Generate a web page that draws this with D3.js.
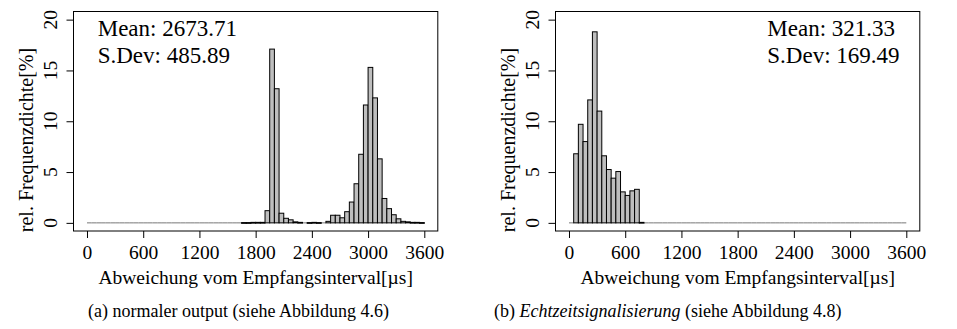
<!DOCTYPE html>
<html lang="de">
<head>
    <meta charset="UTF-8">
    <title>Histogramme Empfangsinterval</title>
    <script src="https://d3js.org/d3.v7.min.js"></script>
    <style>
        body { margin: 0; background: #fff; }
        text { font-family: "Liberation Serif", "Times New Roman", serif; fill: #000; }
    </style>
</head>
<body>
<svg id="chart" width="957" height="329"></svg>
<script>
    // bin width in µs, bins start at 0 and cover 0..3600
    var binWidth = 50;
    var xTicks = [0, 600, 1200, 1800, 2400, 3000, 3600];
    var yTicks = [0, 5, 10, 15, 20];

    // (a) normaler output - rel. frequency per 50µs bin [%]
    var valuesA = [
        0, 0, 0, 0, 0, 0, 0, 0, 0, 0,
        0, 0, 0, 0, 0, 0, 0, 0, 0, 0,
        0, 0, 0, 0, 0, 0, 0, 0, 0, 0,
        0, 0, 0, 0.03, 0.03, 0.05, 0.05, 0.05, 1.2, 17.1,
        13.2, 0.95, 0.45, 0.3, 0.1, 0.05, 0, 0.03, 0.05, 0.03,
        0, 0.15, 0.75, 0.75, 0.5, 1.1, 2.05, 3.85, 6.75, 11.6,
        15.3, 12.3, 6.3, 2.4, 1.4, 0.8, 0.4, 0.15, 0.1, 0.05,
        0.05, 0.03
    ];

    // (b) Echtzeitsignalisierung
    var valuesB = [
        0, 6.8, 9.7, 8.0, 12.1, 18.8, 11.0, 6.6, 5.25, 4.4,
        5.05, 3.05, 2.7, 3.15, 3.3, 0.05, 0, 0, 0, 0,
        0, 0, 0, 0, 0, 0, 0, 0, 0, 0,
        0, 0, 0, 0, 0, 0, 0, 0, 0, 0,
        0, 0, 0, 0, 0, 0, 0, 0, 0, 0,
        0, 0, 0, 0, 0, 0, 0, 0, 0, 0,
        0, 0, 0, 0, 0, 0, 0, 0, 0, 0,
        0, 0
    ];

    var statsA = ["Mean: 2673.71", "S.Dev: 485.89"];
    var statsB = ["Mean: 321.33", "S.Dev: 169.49"];

    var xLabel = "Abweichung vom Empfangsinterval[µs]";
    var yLabel = "rel. Frequenzdichte[%]";

    var svg = d3.select("#chart");

    function drawPanel(left, values, stats, statsX) {
        var g = svg.append("g");

        // R style 4% padding around the data range
        var x = d3.scaleLinear().domain([-144, 3744]).range([left, left + 364.3]);
        var y = d3.scaleLinear().domain([-0.8, 20.8]).range([231, 11.5]);

        var bins = values.map(function(v, i) {
            return { x0: i * binWidth, x1: (i + 1) * binWidth, v: v };
        });

        // empty bins collapse to a line on the baseline
        g.selectAll("line.zero")
            .data(bins.filter(function(d) { return d.v === 0; }))
            .enter().append("line")
            .attr("class", "zero")
            .attr("x1", function(d) { return x(d.x0); })
            .attr("x2", function(d) { return x(d.x1); })
            .attr("y1", y(0))
            .attr("y2", y(0))
            .attr("stroke", "#777")
            .attr("stroke-width", 1);

        g.selectAll("rect.bar")
            .data(bins.filter(function(d) { return d.v > 0; }))
            .enter().append("rect")
            .attr("class", "bar")
            .attr("x", function(d) { return x(d.x0); })
            .attr("width", function(d) { return x(d.x1) - x(d.x0); })
            .attr("y", function(d) { return y(d.v); })
            .attr("height", function(d) { return Math.max(0.8, y(0) - y(d.v)); })
            .attr("fill", "#bebebe")
            .attr("stroke", "#000")
            .attr("stroke-width", 1);

        // box
        g.append("rect")
            .attr("x", x(-144))
            .attr("y", y(20.8))
            .attr("width", x(3744) - x(-144))
            .attr("height", y(-0.8) - y(20.8))
            .attr("fill", "none")
            .attr("stroke", "#000")
            .attr("stroke-width", 1);

        var ax = g.append("g")
            .attr("transform", "translate(0," + y(-0.8) + ")")
            .call(d3.axisBottom(x).tickValues(xTicks).tickSize(7).tickPadding(7).tickFormat(d3.format("d")));
        ax.select(".domain").remove();
        ax.selectAll("line").attr("stroke", "#000");
        ax.selectAll("text")
            .attr("font-family", "Liberation Serif")
            .attr("font-size", "19.5px")
            .attr("fill", "#000");

        var ay = g.append("g")
            .attr("transform", "translate(" + x(-144) + ",0)")
            .call(d3.axisLeft(y).tickValues(yTicks).tickSize(7));
        ay.select(".domain").remove();
        ay.selectAll("line").attr("stroke", "#000");
        ay.selectAll("text").remove();

        g.selectAll("text.ytick")
            .data(yTicks)
            .enter().append("text")
            .attr("class", "ytick")
            .attr("transform", function(d) { return "translate(" + (x(-144) - 23) + "," + y(d) + ") rotate(-90)"; })
            .attr("text-anchor", "middle")
            .attr("dominant-baseline", "central")
            .attr("font-size", "19.5px")
            .text(function(d) { return d; });

        g.append("text")
            .attr("transform", "translate(" + (x(-144) - 48) + ",140) rotate(-90)")
            .attr("text-anchor", "middle")
            .attr("dominant-baseline", "central")
            .attr("font-size", "20px")
            .text(yLabel);

        g.append("text")
            .attr("x", (x(-144) + x(3744)) / 2)
            .attr("y", 284)
            .attr("text-anchor", "middle")
            .attr("font-size", "19.5px")
            .text(xLabel);

        g.selectAll("text.stat")
            .data(stats)
            .enter().append("text")
            .attr("class", "stat")
            .attr("x", statsX)
            .attr("y", function(d, i) { return 35.5 + i * 27.5; })
            .attr("font-size", "23px")
            .text(function(d) { return d; });
    }

    drawPanel(73.5, valuesA, statsA, 97.7);
    drawPanel(555.5, valuesB, statsB, 767.3);

    // sub captions
    var capA = svg.append("text")
        .attr("x", 88)
        .attr("y", 317)
        .attr("font-size", "18px");
    capA.append("tspan").text("(a) normaler output (siehe Abbildung 4.6)");

    var capB = svg.append("text")
        .attr("x", 494)
        .attr("y", 317)
        .attr("font-size", "18px");
    capB.append("tspan").text("(b) ");
    capB.append("tspan").attr("font-style", "italic").text("Echtzeitsignalisierung");
    capB.append("tspan").text(" (siehe Abbildung 4.8)");
</script>
</body>
</html>
